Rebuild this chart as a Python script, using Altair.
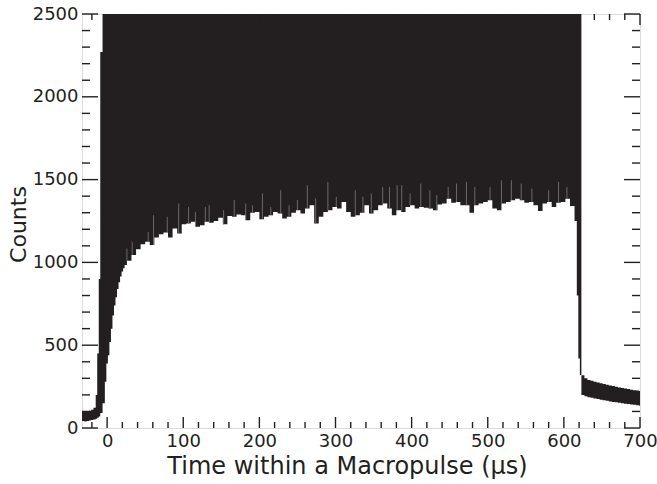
import altair as alt
import pandas as pd

INK = "#231f20"
FONT = "DejaVu Sans"
W, H = 558, 414

# Histogram band per bin: left edge (µs), lower edge and upper edge (counts).
# Upper edge of 2500 means the bin runs off the top of the frame.
pre_t = [-33, -30, -27, -24, -21, -18, -15, -13, -11, -9]
pre_low = [42, 40, 43, 45, 48, 52, 56, 62, 70, 90]
pre_high = [102, 98, 100, 104, 110, 122, 200, 450, 900, 2270]

rise_t = [-6, -3, -1, 1, 3, 5, 7, 9, 11, 13, 15, 17, 19, 21, 23]
rise_low = [150, 280, 390, 440, 520, 600, 680, 740, 790, 840, 880, 915, 945, 965, 985]

plateau_t = list(range(26, 609, 6))
plateau_low = [
    1010, 1045, 1080, 1110, 1125, 1105, 1150, 1170, 1180, 1150,
    1205, 1175, 1230, 1235, 1245, 1215, 1225, 1245, 1240, 1250,
    1270, 1230, 1280, 1275, 1290, 1285, 1255, 1300, 1305, 1260,
    1275, 1285, 1305, 1295, 1265, 1275, 1300, 1315, 1295, 1325,
    1345, 1235, 1275, 1305, 1315, 1335, 1325, 1365, 1305, 1275,
    1285, 1300, 1345, 1295, 1315, 1345, 1355, 1325, 1285, 1315,
    1305, 1335, 1345, 1325, 1335, 1330, 1325, 1315, 1350, 1355,
    1385, 1360, 1365, 1345, 1345, 1300, 1345, 1355, 1365, 1375,
    1325, 1315, 1355, 1365, 1375, 1385, 1375, 1360, 1365, 1345,
    1310, 1355, 1365, 1335, 1360, 1365, 1385, 1340,
]

fall_t = [614, 617, 619, 621]
fall_low = [1250, 800, 420, 320]

tail_t = list(range(623, 700, 4))
tail_low = [200, 192, 186, 183, 178, 175, 171, 167, 164, 160,
            157, 155, 152, 150, 147, 145, 142, 140, 138, 135]
tail_high = [318, 300, 290, 286, 280, 275, 270, 266, 261, 257,
             253, 249, 245, 241, 238, 235, 231, 228, 226, 223]

# Narrow bins that dip below the saturated band, seen as thin grey streaks
spike_t = [26, 33, 54, 61, 79, 94, 107, 116, 129, 134, 153, 167, 182, 191,
           204, 215, 228, 239, 250, 263, 274, 290, 301, 326, 336, 347, 362,
           371, 381, 387, 398, 412, 424, 433, 448, 459, 472, 483, 503, 518,
           531, 544, 558, 580, 593, 604]
spike_top = [1083, 1124, 1184, 1285, 1275, 1355, 1335, 1305, 1335, 1345, 1315,
             1376, 1355, 1345, 1416, 1335, 1436, 1345, 1376, 1466, 1386, 1486,
             1396, 1436, 1396, 1416, 1456, 1456, 1466, 1466, 1416, 1476, 1436,
             1406, 1456, 1476, 1486, 1456, 1456, 1496, 1496, 1476, 1446, 1436,
             1486, 1456]

X_DOMAIN = [-33, 700]
Y_DOMAIN = [0, 2500]
TOP = 2500

t_all = pre_t + rise_t + plateau_t + fall_t + tail_t + [700]
low_all = pre_low + rise_low + plateau_low + fall_low + tail_low + [tail_low[-1]]
high_all = (pre_high + [TOP] * (len(rise_t) + len(plateau_t) + len(fall_t))
            + tail_high + [tail_high[-1]])
hist = pd.DataFrame({"t": t_all, "low": low_all, "high": high_all})


def envelope_at(t):
    # lower edge of the plateau bin that contains t
    idx = max(i for i, s in enumerate(plateau_t) if s <= t)
    return plateau_low[idx]


spikes = pd.DataFrame({
    "t": spike_t,
    "base": [envelope_at(t) for t in spike_t],
    "top": spike_top,
})

xs = alt.Scale(domain=X_DOMAIN, nice=False, zero=False)
ys = alt.Scale(domain=Y_DOMAIN, nice=False, zero=False)

TX = "Time within a Macropulse (µs)"
TY = "Counts"

# Shared axis definitions, used identically in every layer so they merge
x_axis = alt.Axis(
    values=list(range(0, 701, 100)), format="d", ticks=False, tickSize=0,
    domain=False, grid=False, labelFont=FONT, labelFontSize=18,
    labelColor=INK, labelPadding=4, labelFlush=False, labelOverlap=False,
    title=TX, titleFont=FONT,
    titleFontSize=24, titleFontWeight="normal", titleColor=INK,
    titleX=265, titleY=38, titleAlign="center", titleBaseline="middle")
y_axis = alt.Axis(
    values=list(range(0, 2501, 500)), format="d", ticks=False, tickSize=0,
    domain=False, grid=False, labelFont=FONT, labelFontSize=18,
    labelColor=INK, labelPadding=4, labelFlush=False, labelOverlap=False,
    title=TY, titleFont=FONT, titleFontSize=22,
    titleFontWeight="normal", titleColor=INK,
    titleX=-64, titleY=210, titleAlign="center", titleBaseline="middle")

band = alt.Chart(hist).mark_area(
    interpolate="step-after", color=INK, clip=True, opacity=1
).encode(
    x=alt.X("t:Q", scale=xs, axis=x_axis, title=TX),
    y=alt.Y("low:Q", scale=ys, axis=y_axis, title=TY),
    y2="high:Q",
)

streaks = alt.Chart(spikes).mark_rule(color="#7d7b7b", strokeWidth=0.8).encode(
    x=alt.X("t:Q", scale=xs, axis=x_axis, title=TX),
    y=alt.Y("base:Q", scale=ys, axis=y_axis, title=TY),
    y2="top:Q",
)

# Inward-pointing ticks on all four sides of the frame
x_major = list(range(0, 701, 100))
x_minor = [v for v in range(-20, 700, 20) if v % 100 != 0]
y_major = list(range(0, 2501, 500))
y_minor = [v for v in range(100, 2500, 100) if v % 500 != 0]


def x_ticks(values, length):
    df = pd.DataFrame({"v": values})
    base = alt.Chart(df).mark_rule(color=INK, strokeWidth=1.4)
    enc_x = alt.X("v:Q", scale=xs, axis=x_axis, title=TX)
    bottom = base.encode(x=enc_x, y=alt.value(H), y2=alt.value(H - length))
    top = base.encode(x=enc_x, y=alt.value(0), y2=alt.value(length))
    return [bottom, top]


def y_ticks(values, length):
    df = pd.DataFrame({"v": values})
    base = alt.Chart(df).mark_rule(color=INK, strokeWidth=1.4)
    enc_y = alt.Y("v:Q", scale=ys, axis=y_axis, title=TY)
    left = base.encode(y=enc_y, x=alt.value(0), x2=alt.value(length))
    right = base.encode(y=enc_y, x=alt.value(W), x2=alt.value(W - length))
    return [left, right]


layers = [band, streaks]
layers += x_ticks(x_major, 11) + x_ticks(x_minor, 6)
layers += y_ticks(y_major, 16) + y_ticks(y_minor, 8)

chart = alt.layer(*layers).properties(
    width=W,
    height=H,
    autosize=alt.AutoSizeParams(type="none"),
    padding={"left": 82, "top": 14, "right": 17, "bottom": 56},
).configure_view(
    stroke=INK, strokeWidth=1.6
).configure(background="white")

chart.save("out.html", embed_options={"renderer": "svg", "actions": False})
